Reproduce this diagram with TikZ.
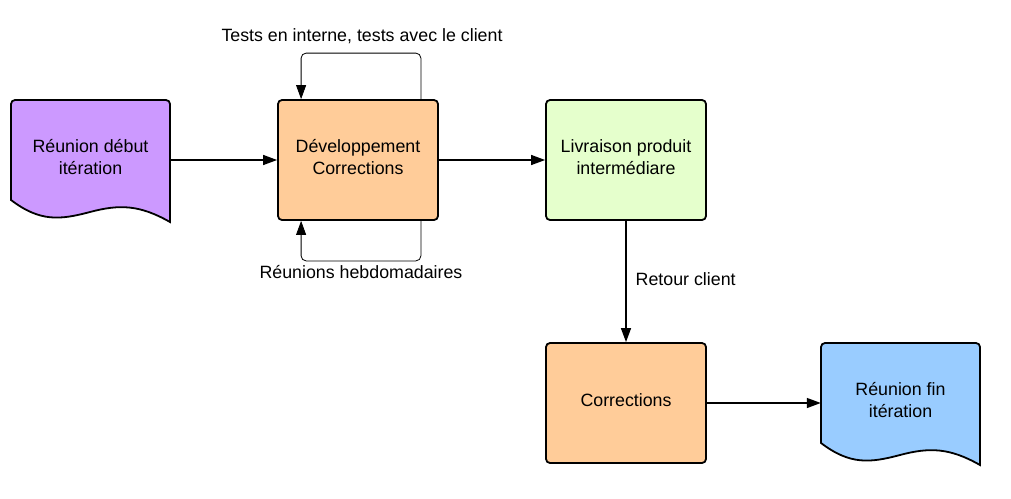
\documentclass[tikz,border=0pt]{standalone}
\usepackage{fontspec}
\setmainfont{Liberation Sans}
\usetikzlibrary{arrows.meta}
\definecolor{cpurple}{HTML}{CC99FF}
\definecolor{corange}{HTML}{FFCC99}
\definecolor{cgreen}{HTML}{E5FFCC}
\definecolor{cblue}{HTML}{99CCFF}
\tikzset{
  box/.style={draw=black, line width=1.8pt, rounded corners=4pt, minimum width=160pt, minimum height=120pt, inner sep=0pt},
  boxtext/.style={align=center, font=\fontsize{17.8}{22}\selectfont, inner sep=0pt},
  doctext/.style={minimum width=159pt, minimum height=100pt, align=center, font=\fontsize{17.8}{22}\selectfont, inner sep=0pt},
  docshape/.style={draw=black, line width=1.8pt},
  conn/.style={line width=1.4pt, -{Triangle[length=14pt,width=10pt]}},
  loopline/.style={line width=0.8pt, rounded corners=5pt, -{Triangle[length=14pt,width=10pt]}},
  lbl/.style={font=\fontsize{17.8}{20}\selectfont, inner sep=0pt}
}
\newcommand\mydocshape[3]{%
  \begin{scope}[shift={(#2,#3)}]
  \draw[docshape, fill=#1] (0,100) [rounded corners=4pt] -- (0,0) -- (159,0) [sharp corners] -- (159,122)
    .. controls (129,105) and (109,104) .. (79,112)
    .. controls (49,120) and (29,122) .. (0,100) -- cycle;
  \end{scope}}
\begin{document}
\begin{tikzpicture}[x=1pt,y=-1pt]
\useasboundingbox (0,0) rectangle (1011,498);
\mydocshape{cpurple}{11}{100}
\mydocshape{cblue}{821}{343}
\node[doctext] (debut) at (90.5,157) {Réunion début\\itération};
\node[doctext] (fin) at (900.5,400) {Réunion fin\\itération};
\node[box, fill=corange] (dev) at (358,160) {};
\node[box, fill=cgreen] (livr) at (626,160) {};
\node[box, fill=corange] (corr) at (626,403) {};
\node[boxtext] (devtext) at ([yshift=2.5pt]dev.center) {Développement\\Corrections};
\node[boxtext] (livrtext) at ([yshift=2.5pt]livr.center) {Livraison produit\\intermédiare};
\node[boxtext] (corrtext) at ([yshift=2.5pt]corr.center) {Corrections};
\draw[conn] (debut.east |- dev.west) -- (dev.west);
\draw[conn] (dev.east) -- (livr.west);
\draw[conn] (livr.south) -- node[lbl, anchor=west, xshift=9pt, pos=0.48] (retour) {Retour client} (corr.north);
\draw[conn] (corr.east) -- (fin.west |- corr.east);
\draw[loopline] ([xshift=-18pt]dev.north east) |- ([xshift=24pt,yshift=46pt]dev.north west) -- ([xshift=24pt]dev.north west);
\draw[loopline] ([xshift=-18pt]dev.south east) |- ([xshift=24pt,yshift=-40pt]dev.south west) -- ([xshift=24pt]dev.south west);
\node[lbl] (tests) at (362,36) {Tests en interne, tests avec le client};
\node[lbl] (hebdo) at (361,272) {Réunions hebdomadaires};
\end{tikzpicture}
\end{document}
